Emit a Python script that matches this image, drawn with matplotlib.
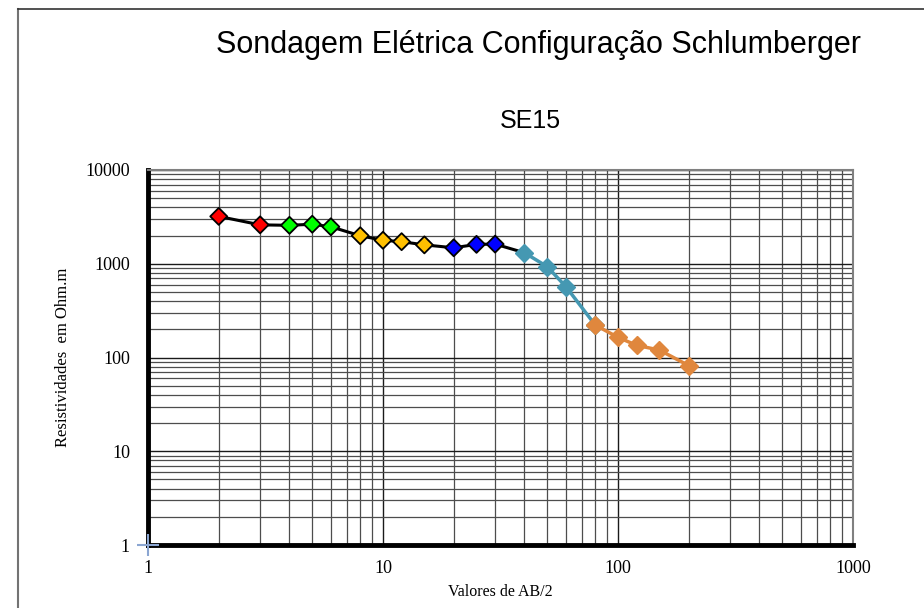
import numpy as np
import matplotlib
matplotlib.use("Agg")
import matplotlib.pyplot as plt
from matplotlib.lines import Line2D

# field curve SE15, split in the three drawn series
ab2_main = [2, 3, 4, 5, 6, 8, 10, 12, 15, 20, 25, 30, 40]
rho_main = [3200, 2600, 2570, 2640, 2480, 1990, 1780, 1720, 1590, 1480, 1610, 1620, 1310]
main_colors = ["#FF0000", "#FF0000", "#00FF00", "#00FF00", "#00FF00",
               "#FFC000", "#FFC000", "#FFC000", "#FFC000",
               "#0000FF", "#0000FF", "#0000FF"]

ab2_mid = [40, 50, 60, 80]
rho_mid = [1310, 930, 570, 222]

ab2_end = [80, 100, 120, 150, 200]
rho_end = [222, 164, 135, 120, 82]

x_ticks = [1, 10, 100, 1000]
y_ticks = [1, 10, 100, 1000, 10000]

cyan = "#4598B2"
orange = "#E0873D"

fig = plt.figure(figsize=(9.24, 6.08), dpi=100)
ax = fig.add_axes([148/924, 1-545/608, (853-148)/924, (545-170)/608])

ax.set_xscale("log")
ax.set_yscale("log")
ax.set_xlim(1, 1000)
ax.set_ylim(1, 10000)

ax.grid(True, which="major", color="0.1", lw=1.0)
ax.grid(True, which="minor", color="0.3", lw=0.9)
ax.set_axisbelow(True)

# series
ax.plot(ab2_main, rho_main, color="black", lw=2.2, zorder=3)
ax.scatter(ab2_main[:-1], rho_main[:-1], marker="D", s=75, c=main_colors,
           edgecolors="black", linewidths=1.3, zorder=4)
ax.plot(ab2_mid, rho_mid, color=cyan, lw=2.5, marker="D", ms=9.5,
        mec=cyan, mfc=cyan, zorder=5)
ax.plot(ab2_end, rho_end, color=orange, lw=2.5, marker="D", ms=9.5,
        mec=orange, mfc=orange, zorder=6)

# little cross at the origin
ax.plot([1], [1], marker="+", ms=16, mew=1.5, color="#8BA6D2",
        clip_on=False, zorder=7)

ax.set_xticks(x_ticks)
ax.set_xticklabels([str(v) for v in x_ticks])
ax.set_yticks(y_ticks)
ax.set_yticklabels([str(v) for v in y_ticks])
ax.xaxis.set_minor_formatter(plt.NullFormatter())
ax.yaxis.set_minor_formatter(plt.NullFormatter())
ax.tick_params(which="both", length=0)
ax.tick_params(axis="x", pad=11)
ax.tick_params(axis="y", pad=13)
for lab in ax.get_xticklabels() + ax.get_yticklabels():
    lab.set_fontfamily("Liberation Serif")
    lab.set_fontsize(13)

for side in ["left", "bottom"]:
    ax.spines[side].set_linewidth(3.5)
    ax.spines[side].set_color("black")
for side in ["top", "right"]:
    ax.spines[side].set_linewidth(1.5)
    ax.spines[side].set_color("0.5")

ax.set_xlabel("Valores de AB/2", fontfamily="Liberation Serif", fontsize=11.5, labelpad=5)
ax.set_ylabel("Resistividades  em Ohm.m", fontfamily="Liberation Serif", fontsize=12, labelpad=10)

fig.text(539/924, 1-45/608, "Sondagem Elétrica Configuração Schlumberger",
         ha="center", va="center", fontfamily="Liberation Sans", fontsize=22)
fig.text(530/924, 1-121/608, "SE15", ha="center", va="center",
         fontfamily="Liberation Sans", fontsize=18)

# outer frame of the chart area
fig.add_artist(Line2D([18/924, 18/924], [0, 1-9/608], color="0.45", lw=1.5))
fig.add_artist(Line2D([18/924, 1], [1-9/608, 1-9/608], color="0.2", lw=1.2))

fig.savefig("out.png", dpi=100)
